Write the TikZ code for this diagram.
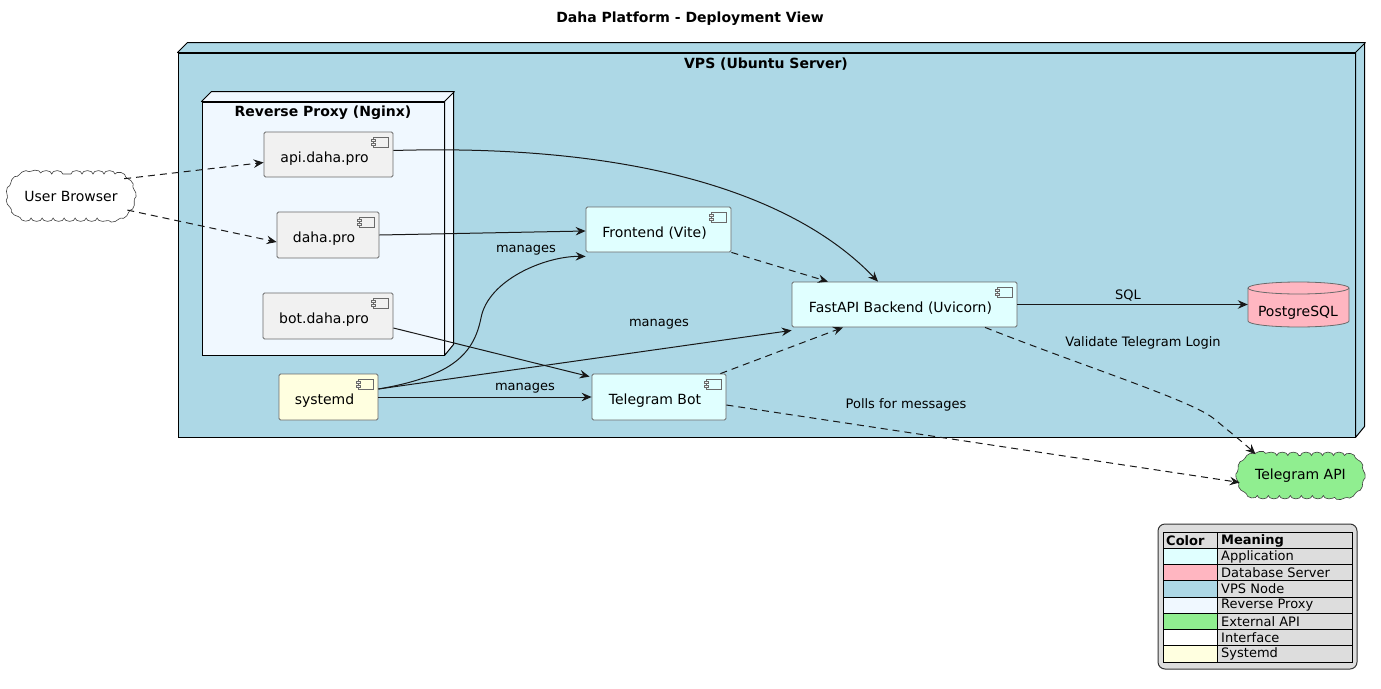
\documentclass[tikz,border=0pt]{standalone}
\usepackage{fontspec}
\setmainfont{DejaVu Sans}
\usetikzlibrary{shapes.symbols,shapes.misc,arrows.meta,decorations.pathmorphing}
\definecolor{vpsfill}{HTML}{ADD8E6}
\definecolor{proxyfill}{HTML}{F0F8FF}
\definecolor{compfill}{HTML}{F1F1F1}
\definecolor{appfill}{HTML}{E0FFFF}
\definecolor{sysfill}{HTML}{FFFFE0}
\definecolor{dbfill}{HTML}{FFB6C1}
\definecolor{extfill}{HTML}{90EE90}
\definecolor{legfill}{HTML}{DDDDDD}
\definecolor{compborder}{HTML}{6A6A6A}
\definecolor{edgecol}{HTML}{181818}
\begin{document}
\begin{tikzpicture}[x=1pt,y=-1pt,
  font=\fontsize{14}{16}\selectfont,
  comp/.style={draw=compborder, line width=0.8pt, rounded corners=1.5pt, inner sep=0pt,
    path picture={
      \draw[compborder, line width=0.7pt, sharp corners]
        ([xshift=-20pt,yshift=-5pt]path picture bounding box.north east) rectangle
        ([xshift=-5pt,yshift=-15pt]path picture bounding box.north east);
      \filldraw[fill=compfill, draw=compborder, line width=0.7pt, sharp corners]
        ([xshift=-22pt,yshift=-7pt]path picture bounding box.north east) rectangle
        ([xshift=-18pt,yshift=-9pt]path picture bounding box.north east);
      \filldraw[fill=compfill, draw=compborder, line width=0.7pt, sharp corners]
        ([xshift=-22pt,yshift=-11pt]path picture bounding box.north east) rectangle
        ([xshift=-18pt,yshift=-13pt]path picture bounding box.north east);
    }},
  ctext/.style={inner sep=0pt},
  box3d/.style={draw=black, line width=1pt, inner sep=0pt},
  titlefont/.style={font=\fontsize{14}{16}\selectfont\bfseries},
  lbl/.style={font=\fontsize{13}{15}\selectfont, inner sep=0pt},
  edge/.style={draw=edgecol, line width=1pt, -{Stealth[length=10pt,width=8.5pt,inset=3.5pt]}},
  dedge/.style={edge, dash pattern=on 7pt off 5pt},
  cloudn/.style={rounded rectangle, draw=black!75, line width=0.6pt, inner sep=0pt,
    decorate, decoration={bumps, segment length=22pt, amplitude=3.4pt}},
  legtext/.style={font=\fontsize{13}{15}\selectfont, anchor=west, inner sep=0pt}
]
\useasboundingbox (0,0) rectangle (1381,688);

% title
\node[titlefont] (title) at (690,19) {Daha Platform - Deployment View};

% VPS node
\node[box3d, fill=vpsfill, minimum width=1177pt, minimum height=384pt] (vps) at (766.5,245) {};
\filldraw[fill=vpsfill, draw=black, line width=1pt, line join=round]
  (vps.north west) -- ++(10,-10) -- ++(1177,0) -- ++(0,384) -- (vps.south east) -- (vps.north east) -- cycle;
\draw[black, line width=1pt] (vps.north east) -- ++(10,-10);
\node[titlefont] (vpst) at (766,64) {VPS (Ubuntu Server)};

% Reverse proxy node
\node[box3d, fill=proxyfill, minimum width=242pt, minimum height=253pt] (rp) at (323,228.5) {};
\filldraw[fill=proxyfill, draw=black, line width=1pt, line join=round]
  (rp.north west) -- ++(10,-10) -- ++(242,0) -- ++(0,253) -- (rp.south east) -- (rp.north east) -- cycle;
\draw[black, line width=1pt] (rp.north east) -- ++(10,-10);
\node[titlefont] (rpt) at (323,113) {Reverse Proxy (Nginx)};

% components
\node[comp, fill=compfill, minimum width=129pt, minimum height=45pt] (api) at (328.5,154.5) {};
\node[ctext] (apit) at (324.5,158.5) {api.daha.pro};
\node[comp, fill=compfill, minimum width=102pt, minimum height=46pt] (daha) at (328,235) {};
\node[ctext] (dahat) at (324,239) {daha.pro};
\node[comp, fill=compfill, minimum width=130pt, minimum height=46pt] (bot) at (328,316) {};
\node[ctext] (bott) at (324,320) {bot.daha.pro};

\node[comp, fill=sysfill, minimum width=99pt, minimum height=46pt] (sysd) at (328.5,397) {};
\node[ctext] (sysdt) at (324.5,401) {systemd};
\node[comp, fill=appfill, minimum width=134pt, minimum height=46pt] (tgbot) at (659,397) {};
\node[ctext] (tgbott) at (655,401) {Telegram Bot};
\node[comp, fill=appfill, minimum width=145pt, minimum height=45pt] (front) at (658.5,229.5) {};
\node[ctext] (frontt) at (654.5,233.5) {Frontend (Vite)};
\node[comp, fill=appfill, minimum width=225pt, minimum height=45pt] (fast) at (904.5,304.5) {};
\node[ctext] (fastt) at (900.5,308.5) {FastAPI Backend (Uvicorn)};

% PostgreSQL
\node[inner sep=0pt, minimum width=101pt, minimum height=45pt] (pg) at (1298.5,304.5) {};
\filldraw[fill=dbfill, draw=compborder, line width=0.8pt]
  (1248,288) -- (1248,321) arc[start angle=180, end angle=360, x radius=50.5pt, y radius=6pt]
  -- (1349,288) arc[start angle=0, end angle=180, x radius=50.5pt, y radius=6pt] -- cycle;
\draw[compborder, line width=0.8pt] (1248,288) arc[start angle=180, end angle=360, x radius=50.5pt, y radius=6pt];
\node[ctext] (pgt) at (1298,313) {PostgreSQL};

% clouds
\node[cloudn, fill=white, minimum width=122pt, minimum height=44pt] (ub) at (71,196) {User Browser};
\node[cloudn, fill=extfill, minimum width=121pt, minimum height=40pt] (tgapi) at (1300.5,475.5) {Telegram API};

% edges
\draw[dedge] (ub.18) -- ([yshift=-8pt]api.west);
\draw[dedge] (ub.-14) -- ([yshift=-7pt]daha.west);
\draw[edge] ([yshift=4pt]api.east) .. controls (650,143) and (800,200) .. ([xshift=-26.5pt]fast.north);
\draw[edge] (daha.east) -- ([yshift=-1.5pt]front.west);
\draw[edge] ([yshift=-12pt]bot.east) -- ([xshift=-2pt,yshift=-3pt]tgbot.north west);
\draw[edge] ([yshift=8pt]sysd.east) .. controls (455,376) and (474,352) .. (481,318)
  .. controls (488,280) and (545,256) .. ([yshift=-4pt]front.south west);
\draw[edge] ([yshift=8pt]sysd.east) -- ([yshift=-3pt]fast.south west);
\draw[edge] (sysd.east) -- (tgbot.west);
\draw[dedge] (front.south east) -- ([xshift=-76.5pt]fast.north);
\draw[dedge] ([xshift=-6pt]tgbot.north east) -- ([xshift=-61.5pt]fast.south);
\draw[edge] (fast.east) -- (pg.west);
\draw[dedge] ([xshift=80.5pt]fast.south) .. controls (1080,365) and (1190,400) .. (1213,418)
  .. controls (1230,432) and (1245,444) .. ([xshift=-45pt,yshift=1pt]tgapi.north);
\draw[dedge] ([yshift=-8pt]tgbot.east) -- ([yshift=-7pt]tgapi.west);

% edge labels
\node[lbl] (l1) at (526,250) {manages};
\node[lbl] (l2) at (659,324) {manages};
\node[lbl] (l3) at (525,388) {manages};
\node[lbl] (l4) at (1128,296) {SQL};
\node[lbl] (l5) at (1143,343) {Validate Telegram Login};
\node[lbl] (l6) at (906,405) {Polls for messages};

% legend
\node[draw=black!80, line width=1pt, fill=legfill, rounded corners=7pt, minimum width=199pt, minimum height=145pt, inner sep=0pt] (leg) at (1257.5,596.5) {};
\foreach \c [count=\i] in {appfill,dbfill,vpsfill,proxyfill,extfill,white,sysfill}{
  \fill[\c] (1163,{532+\i*16.25}) rectangle (1217,{532+(\i+1)*16.25});
}
\draw[black, line width=1pt] (1163,532) rectangle (1352,662);
\draw[black, line width=1pt] (1217,532) -- (1217,662);
\foreach \i in {1,...,7}{
  \draw[black, line width=0.8pt] (1163,{532+\i*16.25}) -- (1352,{532+\i*16.25});
}
\node[legtext, font=\fontsize{13}{15}\selectfont\bfseries] (lh1) at (1166,540.5) {Color};
\node[legtext, font=\fontsize{13}{15}\selectfont\bfseries] (lh2) at (1221,540.5) {Meaning};
\foreach \t [count=\i] in {Application,Database Server,VPS Node,Reverse Proxy,External API,Interface,Systemd}{
  \node[legtext] (lg\i) at (1221,{532+\i*16.25+8.3}) {\t};
}
\end{tikzpicture}
\end{document}
